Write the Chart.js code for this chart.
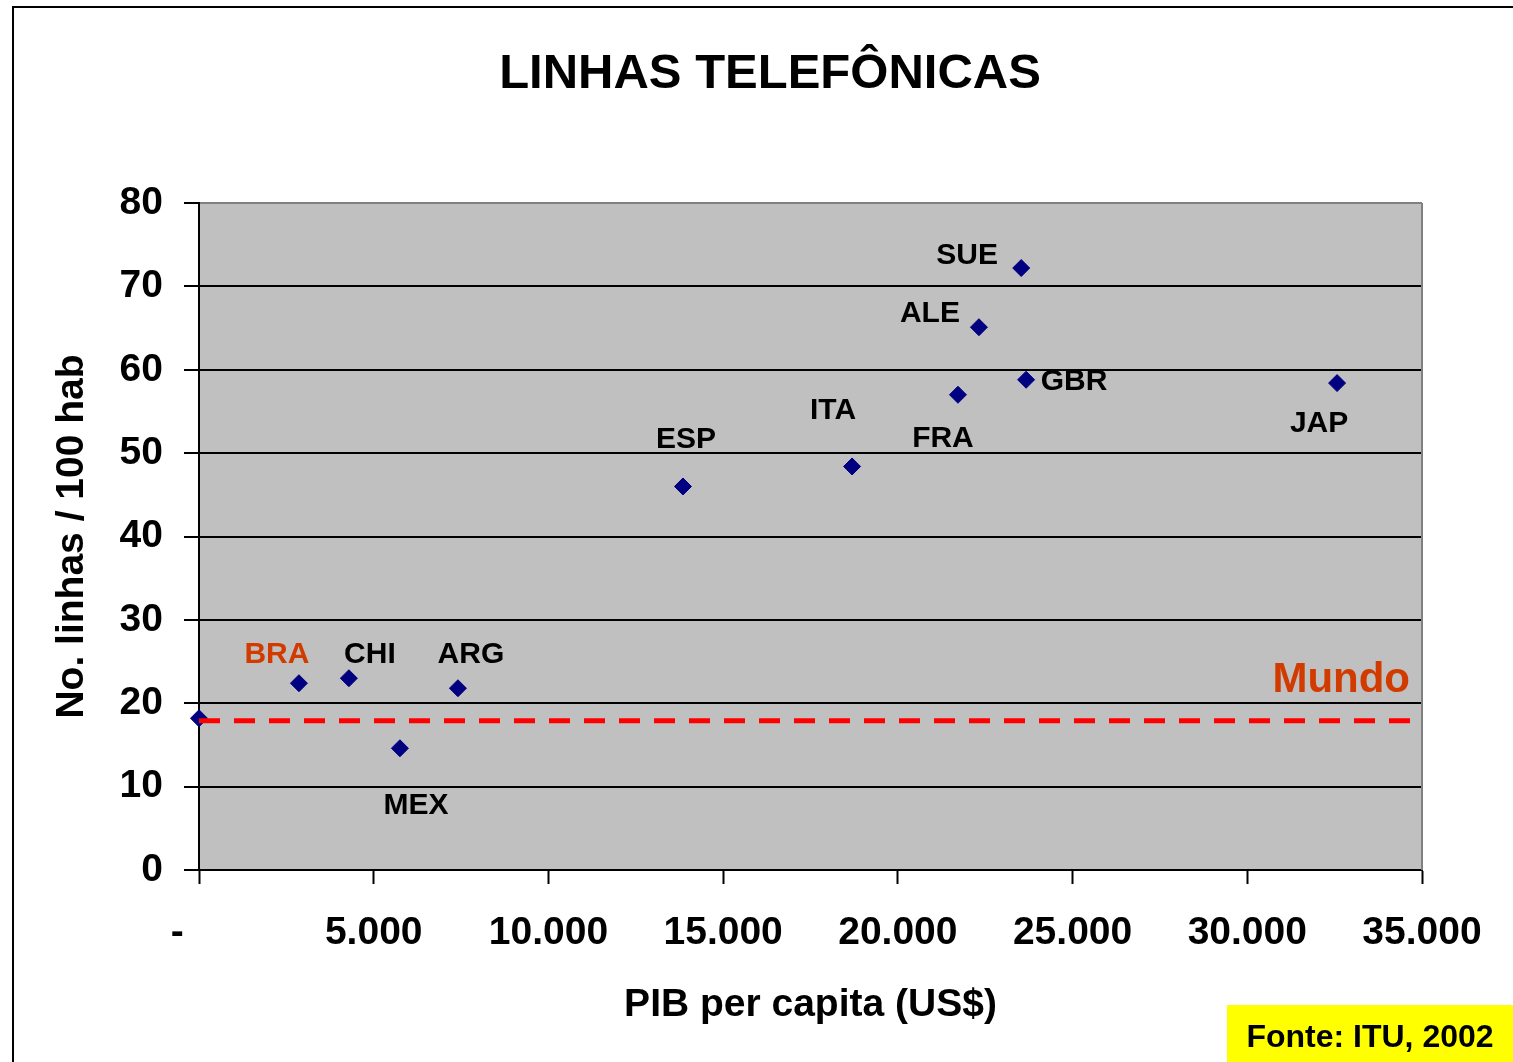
<!DOCTYPE html>
<html>
<head>
<meta charset="utf-8">
<title>Linhas telefônicas</title>
<script src="https://cdn.jsdelivr.net/npm/chart.js@4.4.1/dist/chart.umd.min.js"></script>
<style>
    html, body { margin: 0; padding: 0; background: #fff; }
    #wrap { width: 1513px; height: 1062px; }
</style>
</head>
<body>
<div id="wrap"><canvas id="chart" width="1513" height="1062"></canvas></div>
<script>
// country data: PIB per capita (US$) vs linhas / 100 hab
const countries = ["Mundo", "BRA", "CHI", "MEX", "ARG", "ESP", "ITA", "FRA", "ALE", "SUE", "GBR", "JAP"];
const gdpPerCapita = [0, 2860, 4290, 5750, 7410, 13850, 18690, 21720, 22320, 23530, 23670, 32570];
const phoneLines = [18.2, 22.4, 23.0, 14.6, 21.8, 46.0, 48.4, 57.0, 65.1, 72.2, 58.8, 58.4];

// world average (dashed line)
const worldRange = [0, 35000];
const worldLevel = [17.9, 17.9];

// axis tick labels
const xTickLabels = ["-", "5.000", "10.000", "15.000", "20.000", "25.000", "30.000", "35.000"];
const yTickLabels = ["0", "10", "20", "30", "40", "50", "60", "70", "80"];

const FONT = "'Liberation Sans', Arial, sans-serif";
const ORANGE = "#D13B00";
Chart.defaults.font.family = FONT;

// where each country name sits relative to its marker (px)
const labelOffsets = {
    BRA: [-22, -31], CHI: [21, -26], ARG: [13, -36], MEX: [16, 55],
    ESP: [3, -49], ITA: [-19, -58], FRA: [-15, 42], ALE: [-49, -15],
    SUE: [-54, -14], GBR: [48, 0], JAP: [-18, 39]
};

// background, outer frame, grey plot area, title and source box
const backdrop = {
    id: "backdrop",
    beforeDraw(chart) {
        const { ctx, chartArea: a } = chart;
        ctx.save();
        ctx.fillStyle = "#fff";
        ctx.fillRect(0, 0, chart.width, chart.height);
        ctx.strokeStyle = "#000";
        ctx.lineWidth = 2;
        ctx.beginPath();
        ctx.moveTo(13, chart.height);
        ctx.lineTo(13, 7);
        ctx.lineTo(chart.width, 7);
        ctx.stroke();
        ctx.fillStyle = "#c0c0c0";
        ctx.fillRect(a.left, a.top, a.right - a.left, a.bottom - a.top);

        ctx.fillStyle = "#000";
        ctx.font = "bold 49px " + FONT;
        ctx.textAlign = "center";
        ctx.textBaseline = "middle";
        ctx.fillText("LINHAS TELEFÔNICAS", 770, 74);
        ctx.restore();
    },
    beforeDatasetsDraw(chart) {
        const { ctx, chartArea: a } = chart;
        ctx.save();
        ctx.strokeStyle = "#808080";
        ctx.lineWidth = 2;
        ctx.beginPath();
        ctx.moveTo(a.right, a.bottom);
        ctx.lineTo(a.right, a.top);
        ctx.stroke();
        ctx.restore();
    },
    afterDraw(chart) {
        const ctx = chart.ctx;
        ctx.save();
        ctx.fillStyle = "#ffff00";
        ctx.fillRect(1227, 1005, chart.width - 1227, chart.height - 1005);
        ctx.fillStyle = "#000";
        ctx.font = "bold 32px " + FONT;
        ctx.textAlign = "center";
        ctx.textBaseline = "middle";
        ctx.fillText("Fonte: ITU, 2002", 1370, 1038);
        ctx.restore();
    }
};

// country names next to the markers + "Mundo" on the dashed line
const pointLabels = {
    id: "pointLabels",
    afterDatasetsDraw(chart) {
        const ctx = chart.ctx;
        const pts = chart.getDatasetMeta(1).data;
        ctx.save();
        ctx.font = "bold 30px " + FONT;
        ctx.textAlign = "center";
        ctx.textBaseline = "middle";
        countries.forEach((name, i) => {
            const off = labelOffsets[name];
            if (!off) return;
            ctx.fillStyle = name === "BRA" ? ORANGE : "#000";
            ctx.fillText(name, pts[i].x + off[0], pts[i].y + off[1] + 2);
        });
        const line = chart.getDatasetMeta(0).data;
        const end = line[line.length - 1];
        ctx.font = "bold 42px " + FONT;
        ctx.fillStyle = ORANGE;
        ctx.textAlign = "right";
        ctx.fillText("Mundo", end.x - 12, end.y - 40);
        ctx.restore();
    }
};

const ctx = document.getElementById("chart");

const chart = new Chart(ctx, {
    type: "scatter",
    data: {
        datasets: [
            {
                type: "line",
                label: "Mundo",
                data: worldRange.map((x, i) => ({ x: x, y: worldLevel[i] })),
                borderColor: "#ff0000",
                borderWidth: 5,
                borderDash: [21, 14],
                pointRadius: 0,
                fill: false
            },
            {
                label: "Países",
                data: gdpPerCapita.map((x, i) => ({ x: x, y: phoneLines[i] })),
                pointStyle: "rectRot",
                pointRadius: 8.5,
                backgroundColor: "#000080",
                borderColor: "#000080",
                borderWidth: 1,
                clip: false
            }
        ]
    },
    options: {
        responsive: false,
        animation: false,
        layout: { padding: { left: 0, top: 203, right: 91, bottom: 0 } },
        plugins: {
            legend: { display: false },
            tooltip: { enabled: false },
            title: { display: false }
        },
        scales: {
            x: {
                type: "linear",
                min: 0,
                max: 35000,
                afterFit(scale) { scale.height = 192; },
                ticks: {
                    stepSize: 5000,
                    autoSkip: false,
                    maxRotation: 0,
                    padding: 26,
                    color: "#000",
                    font: { size: 39, weight: "bold" },
                    callback: function (v) {
                        const i = Math.round(v / 5000);
                        return i === 0 ? xTickLabels[0] + "    " : xTickLabels[i];
                    }
                },
                grid: {
                    drawOnChartArea: false,
                    drawTicks: true,
                    tickLength: 14,
                    tickColor: "#000",
                    tickWidth: 2
                },
                border: { color: "#000", width: 2 },
                title: {
                    display: true,
                    text: "PIB per capita (US$)",
                    color: "#000",
                    font: { size: 39, weight: "bold" },
                    padding: { top: 0, bottom: 33 }
                }
            },
            y: {
                min: 0,
                max: 80,
                afterFit(scale) { scale.width = 199; },
                ticks: {
                    stepSize: 10,
                    padding: 21,
                    color: "#000",
                    font: { size: 39, weight: "bold" },
                    callback: function (v) { return yTickLabels[Math.round(v / 10)]; }
                },
                grid: {
                    color: (c) => c.tick && c.tick.value === 80 ? "#808080" : "#000",
                    lineWidth: 2,
                    tickLength: 15,
                    tickColor: "#000",
                    tickWidth: 2
                },
                border: { color: "#000", width: 2 },
                title: {
                    display: true,
                    text: "No. linhas / 100 hab",
                    color: "#000",
                    font: { size: 39, weight: "bold" },
                    padding: { top: 49, bottom: 0 }
                }
            }
        }
    },
    plugins: [backdrop, pointLabels]
});
</script>
</body>
</html>
